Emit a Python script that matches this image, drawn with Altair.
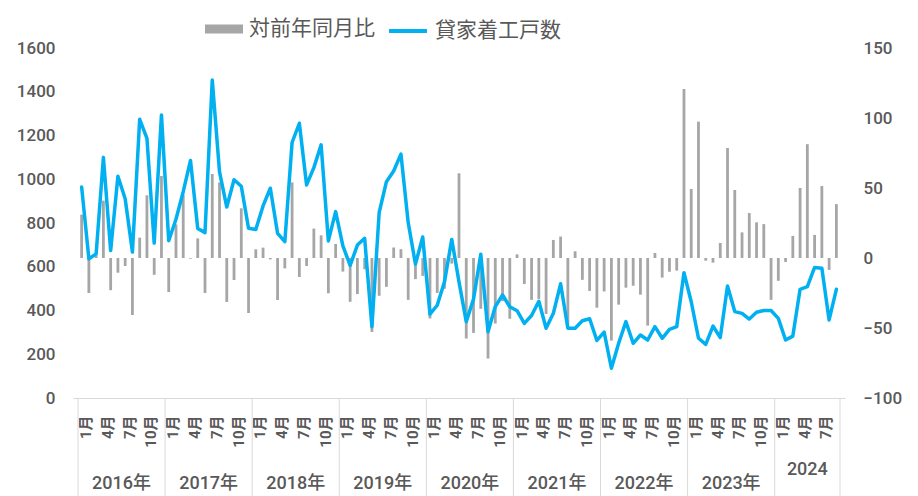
import json
import altair as alt
import pandas as pd

# 貸家着工戸数 (left axis), monthly from 2016-01
starts = [
    965, 636, 659, 1100, 674, 1014, 911, 667, 1274, 1187, 708, 1294,
    719, 817, 943, 1086, 775, 756, 1454, 1034, 873, 998, 968, 776,
    770, 878, 959, 753, 715, 1168, 1256, 974, 1053, 1157, 718, 852,
    695, 606, 699, 730, 326, 848, 989, 1038, 1115, 802, 612, 736,
    383, 424, 531, 725, 531, 349, 452, 657, 303, 418, 471, 417,
    399, 341, 377, 442, 319, 387, 522, 319, 319, 353, 362, 263,
    301, 136, 250, 349, 250, 288, 265, 326, 273, 314, 326, 573,
    440, 273, 245, 329, 276, 512, 395, 387, 361, 392, 400, 400,
    364, 265, 283, 497, 509, 597, 593, 357, 497,
]

# 対前年同月比 (right axis, %)
yoy = [
    31, -25, 2, 41, -23, -10.5, -5.7, -40.7, 14.5, 44.8, -12, 58.6,
    -24.3, 24, 45, -0.5, 14, -25, 60, 54, -31.4, -15.7, 35.5, -39.3,
    6.2, 7.4, -1, -30, -7.4, 54, -13.6, -5.7, 21, 16.2, -25.2, 10,
    -9.7, -31.3, -25.8, -8, -52.8, -27, -20.6, 7.5, 6.3, -29.9, -15.1, -12.8,
    -43.2, -25, -22, -4, 60.5, -57.5, -53.5, -36.3, -71.8, -46.8, -30.8, -43.4,
    2.6, -18.6, -29.9, -29.2, -40, 12.9, 15.3, -48.5, 4.8, -15.6, -23.5, -35.5,
    -23.9, -59, -33.3, -21.2, -19.8, -26.2, -48.3, 3.6, -14, -9.8, -9, 120.7,
    49.3, 97.4, -1.9, -3.3, 10.7, 78.6, 48.6, 18.3, 32.1, 25.5, 24.2, -29.9,
    -16.3, -2.8, 15.8, 50, 81.3, 16.5, 51.4, -8.5, 38.5,
]

year_labels = ["2016年", "2017年", "2018年", "2019年", "2020年",
               "2021年", "2022年", "2023年", "2024"]
month_tick_labels = ["1月", "4月", "7月", "10月"]
series_names = ["対前年同月比", "貸家着工戸数"]
left_ticks = [0, 200, 400, 600, 800, 1000, 1200, 1400, 1600]
right_ticks = [-100, -50, 0, 50, 100, 150]

n = len(starts)
df = pd.DataFrame({
    "idx": list(range(n)), "starts": starts, "yoy": yoy,
    "s_bar": [series_names[0]] * n, "s_line": [series_names[1]] * n,
})

year_start = [12 * k for k in range(len(year_labels))]
year_end = [min(12 * (k + 1), n) for k in range(len(year_labels))]
years_df = pd.DataFrame({
    "label": year_labels,
    "c": [(s + e) / 2 - 0.5 for s, e in zip(year_start, year_end)],
})
bnd_df = pd.DataFrame({"b": [s - 0.5 for s in year_start] + [n - 0.5]})

TXT = "#595959"
GRID = "#d9d9d9"
GRAY = "#a6a6a6"
BLUE = "#00b0f0"
NUMFONT = "Roboto, 'Noto Sans CJK JP'"
CJK = "'Noto Sans CJK JP'"

W, H = 772, 350
xscale = alt.Scale(domain=[-0.5, n - 0.5], nice=False, zero=False)

label_expr = (json.dumps(month_tick_labels, ensure_ascii=False)
              + "[floor((datum.value % 12) / 3)]")

x_axis = alt.Axis(
    values=list(range(0, n, 3)), labelExpr=label_expr, labelAngle=270,
    labelAlign="right", labelBaseline="middle", labelFontSize=15,
    labelFont=NUMFONT, labelFontWeight="bold", labelColor=TXT, labelPadding=17,
    labelOffset=4, ticks=False, tickSize=0, domainColor=GRID, domainWidth=1,
    grid=False, title=None, labelOverlap=False, labelBound=False, labelFlush=False,
)

legend_common = dict(
    title=None, orient="none", direction="horizontal", legendY=-38,
    labelFont=CJK, labelFontSize=21, labelColor=TXT, labelOffset=6, padding=0,
)
bar_legend = alt.Legend(
    legendX=132, symbolType="M-1,-0.24H1V0.24H-1Z", symbolSize=1444,
    symbolStrokeWidth=0, **legend_common,
)
line_legend = alt.Legend(
    legendX=314, symbolType="stroke", symbolSize=1444, symbolStrokeWidth=4,
    **legend_common,
)

seps = alt.Chart(bnd_df).mark_rule(color=GRID, strokeWidth=1).encode(
    x=alt.X("b:Q", scale=xscale, axis=x_axis),
    y=alt.value(H), y2=alt.value(H + 98),
)

bars = alt.Chart(df).mark_bar(width=2.8).encode(
    x=alt.X("idx:Q", scale=xscale, axis=x_axis),
    y=alt.Y("yoy:Q", scale=alt.Scale(domain=[-100, 150], nice=False),
            axis=alt.Axis(orient="right", values=right_ticks, grid=False,
                          ticks=False, tickSize=0, domain=False, title=None,
                          format="d", labelFontWeight=500,
                          labelFont=NUMFONT, labelFontSize=17, labelColor=TXT,
                          labelPadding=18)),
    fill=alt.Fill("s_bar:N",
                  scale=alt.Scale(domain=[series_names[0]], range=[GRAY]),
                  legend=bar_legend),
)

line = alt.Chart(df).mark_line(strokeWidth=3.5, strokeJoin="round", strokeCap="round").encode(
    x=alt.X("idx:Q", scale=xscale, axis=x_axis),
    y=alt.Y("starts:Q", scale=alt.Scale(domain=[0, 1600], nice=False),
            axis=alt.Axis(orient="left", values=left_ticks, grid=False,
                          ticks=False, tickSize=0, domain=False, title=None,
                          format="d", labelFontWeight=500,
                          labelFont=NUMFONT, labelFontSize=17, labelColor=TXT,
                          labelPadding=18)),
    stroke=alt.Stroke("s_line:N",
                      scale=alt.Scale(domain=[series_names[1]], range=[BLUE]),
                      legend=line_legend),
)

ytext = alt.Chart(years_df[years_df["label"] != year_labels[-1]]).mark_text(
    font=NUMFONT, fontSize=18, fontWeight=500, color=TXT, baseline="middle"
).encode(
    x=alt.X("c:Q", scale=xscale, axis=x_axis),
    y=alt.value(H + 86),
    text="label:N",
)
ytext_last = alt.Chart(years_df[years_df["label"] == year_labels[-1]]).mark_text(
    font=NUMFONT, fontSize=18, fontWeight=500, color=TXT, baseline="middle"
).encode(
    x=alt.X("c:Q", scale=xscale, axis=x_axis),
    y=alt.value(H + 72),
    text="label:N",
)

chart = alt.layer(seps, bars, line, ytext, ytext_last).resolve_scale(
    y="independent"
).properties(
    width=W, height=H,
    autosize=alt.AutoSizeParams(type="none"),
    padding={"left": 65, "top": 40, "right": 65, "bottom": 98},
    background="white",
).configure_view(stroke=None)

chart.save("out.html", embed_options={"renderer": "svg", "actions": False})
